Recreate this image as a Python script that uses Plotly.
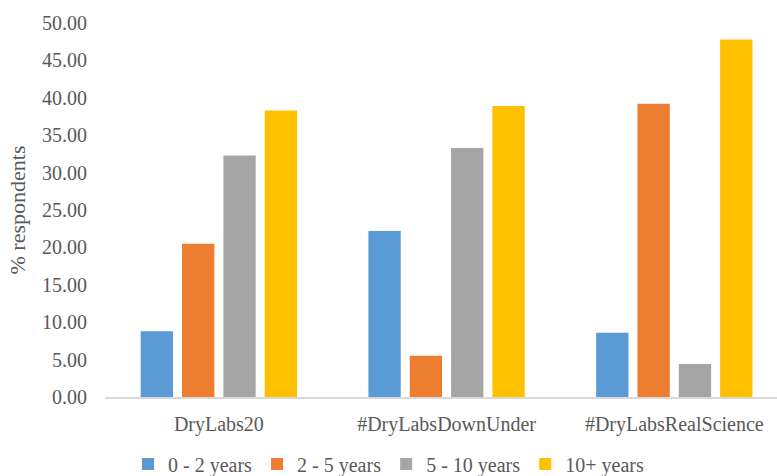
import plotly.graph_objects as go

categories = ["DryLabs20", "#DryLabsDownUnder", "#DryLabsRealScience"]
series_names = ["0 - 2 years", "2 - 5 years", "5 - 10 years", "10+ years"]
v_0_2 = [8.8, 22.2, 8.6]
v_2_5 = [20.5, 5.5, 39.2]
v_5_10 = [32.3, 33.3, 4.4]
v_10p = [38.3, 38.9, 47.8]
colors = ["#5B9BD5", "#ED7D31", "#A5A5A5", "#FFC000"]
y_ticks = [0, 5, 10, 15, 20, 25, 30, 35, 40, 45, 50]

font_family = "Liberation Serif, Times New Roman, serif"
fig = go.Figure()
for name, vals, c in zip(series_names, [v_0_2, v_2_5, v_5_10, v_10p], colors):
    fig.add_trace(go.Bar(x=categories, y=vals, name=name, marker_color=c,
                         marker_line_width=0))

fig.update_layout(
    width=777, height=476,
    margin=dict(l=105, r=0, t=23, b=79, autoexpand=False),
    paper_bgcolor="white", plot_bgcolor="white",
    barmode="group", bargap=0.274, bargroupgap=0.218,
    font=dict(family=font_family, size=20, color="#595959"),
    legend=dict(orientation="h", xref="container", x=128 / 777,
                xanchor="left", yref="container", y=12 / 476,
                yanchor="middle", font=dict(size=20), itemwidth=30),
    showlegend=True,
)
fig.update_xaxes(showline=True, linecolor="#D9D9D9", linewidth=1.5,
                 ticks="", showgrid=False, ticklabelstandoff=8,
                 range=[-0.5, 2.451], automargin=False)
fig.update_yaxes(range=[0, 50], tickvals=y_ticks,
                 ticktext=[f"{v:.2f}" for v in y_ticks],
                 showgrid=False, zeroline=False, showline=False, ticks="",
                 ticklabelstandoff=17, automargin=False,
                 title=dict(text="% respondents", standoff=10,
                            font=dict(size=22)))
fig.write_html(
    "out.html",
    config={"displayModeBar": False},
    post_script="document.body.style.margin='0';"
                "document.body.style.overflow='hidden';",
)
